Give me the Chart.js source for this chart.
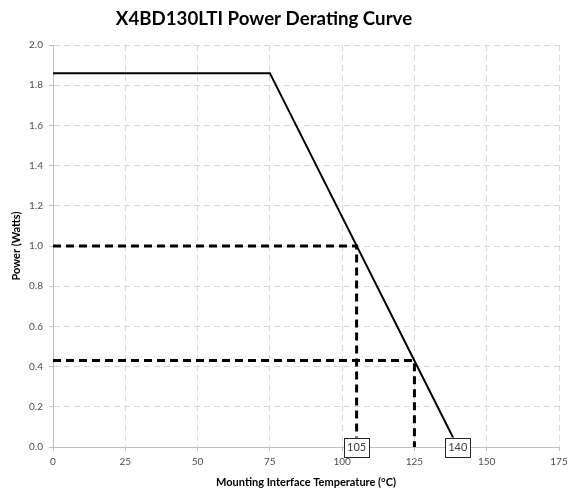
<!DOCTYPE html>
<html>
<head>
<meta charset="utf-8">
<script src="https://cdn.jsdelivr.net/npm/chart.js@4"></script>
<style>
  html, body { margin: 0; padding: 0; background: #fff; }
  #wrap { width: 568px; height: 491px; position: relative; }
</style>
</head>
<body>
<div id="wrap"><canvas id="myChart"></canvas></div>
<script>
const TITLE = "X4BD130LTI Power Derating Curve";
const X_TITLE = "Mounting Interface Temperature (\u00B0C)";
const Y_TITLE = "Power (Watts)";

// derating curve
const curve_temp = [0, 75, 140];
const curve_power = [1.86, 1.86, 0];

// dashed guide lines
const guide1_temp = [0, 105, 105];
const guide1_power = [1.0, 1.0, 0];
const guide2_temp = [0, 125, 125];
const guide2_power = [0.43, 0.43, 0];

// boxed labels on the x axis
const box_labels = [105, 140];

const toPoints = (xs, ys) => xs.map((x, i) => ({x: x, y: ys[i]}));

// title drawn a bit left of centre like the original
const titlePlugin = {
    id: 'titleText',
    afterDraw(chart) {
        const ctx = chart.ctx;
        ctx.save();
        ctx.font = "bold 18.7px Lato";
        ctx.fillStyle = "#000";
        ctx.textAlign = "center";
        ctx.textBaseline = "middle";
        ctx.fillText(TITLE, 264, 19);
        ctx.restore();
    }
};

// the little boxes with 105 / 140
const boxPlugin = {
    id: 'boxLabels',
    afterDatasetsDraw(chart) {
        const ctx = chart.ctx;
        const xs = chart.scales.x, ys = chart.scales.y;
        ctx.save();
        ctx.font = "11px Lato";
        ctx.textAlign = "center";
        ctx.textBaseline = "middle";
        box_labels.forEach(v => {
            const cx = xs.getPixelForValue(v);
            const cy = ys.getPixelForValue(0);
            ctx.fillStyle = "#fff";
            ctx.fillRect(cx - 12.5, cy - 9.5, 25, 19);
            ctx.strokeStyle = "#262626";
            ctx.lineWidth = 1;
            ctx.strokeRect(Math.round(cx - 12.5) + 0.5, Math.round(cy - 9.5) + 0.5, 25, 19);
            ctx.fillStyle = "#404040";
            ctx.fillText(String(v), cx, cy + 0.5);
        });
        ctx.restore();
    }
};

const gridOpts = {
    color: "#d9d9d9",
    lineWidth: 1,
    tickLength: 4,
    tickColor: "#bfbfbf",
    tickBorderDash: []
};
const borderOpts = {color: "#bfbfbf", width: 1, dash: [6, 4]};

new Chart(document.getElementById('myChart').getContext('2d'), {
    type: 'line',
    data: {
        datasets: [
            {
                data: toPoints(curve_temp, curve_power),
                borderColor: "#000",
                borderWidth: 2,
                pointRadius: 0,
                tension: 0
            },
            {
                data: toPoints(guide1_temp, guide1_power),
                borderColor: "#000",
                borderWidth: 3,
                borderDash: [8, 5],
                pointRadius: 0
            },
            {
                data: toPoints(guide2_temp, guide2_power),
                borderColor: "#000",
                borderWidth: 3,
                borderDash: [8, 5],
                pointRadius: 0
            }
        ]
    },
    options: {
        responsive: true,
        maintainAspectRatio: false,
        animation: false,
        events: [],
        layout: {padding: {top: 45, right: 9, left: 0, bottom: 0}},
        plugins: {
            legend: {display: false},
            title: {display: false},
            tooltip: {enabled: false}
        },
        scales: {
            x: {
                type: 'linear',
                min: 0,
                max: 175,
                ticks: {
                    stepSize: 25,
                    color: "#4d4d4d",
                    font: {family: "Lato", size: 10},
                    padding: 5,
                    maxRotation: 0
                },
                grid: gridOpts,
                border: borderOpts,
                title: {
                    display: true,
                    text: X_TITLE,
                    color: "#000",
                    font: {family: "Lato", size: 11, weight: "bold"},
                    padding: {top: 0, bottom: 2}
                },
                afterFit: (scale) => {
                    scale.height = 44;
                    scale.paddingLeft = 0;
                    scale.paddingRight = 0;
                }
            },
            y: {
                min: 0,
                max: 2,
                ticks: {
                    stepSize: 0.2,
                    color: "#4d4d4d",
                    font: {family: "Lato", size: 10},
                    padding: 6,
                    callback: (v) => Number(v).toFixed(1)
                },
                grid: gridOpts,
                border: borderOpts,
                title: {
                    display: true,
                    text: Y_TITLE,
                    color: "#000",
                    font: {family: "Lato", size: 11, weight: "bold"},
                    padding: {top: 10, bottom: 0}
                },
                afterFit: (scale) => {
                    scale.width = 53;
                    scale.paddingTop = 0;
                    scale.paddingBottom = 0;
                }
            }
        }
    },
    plugins: [titlePlugin, boxPlugin]
});
</script>
</body>
</html>
